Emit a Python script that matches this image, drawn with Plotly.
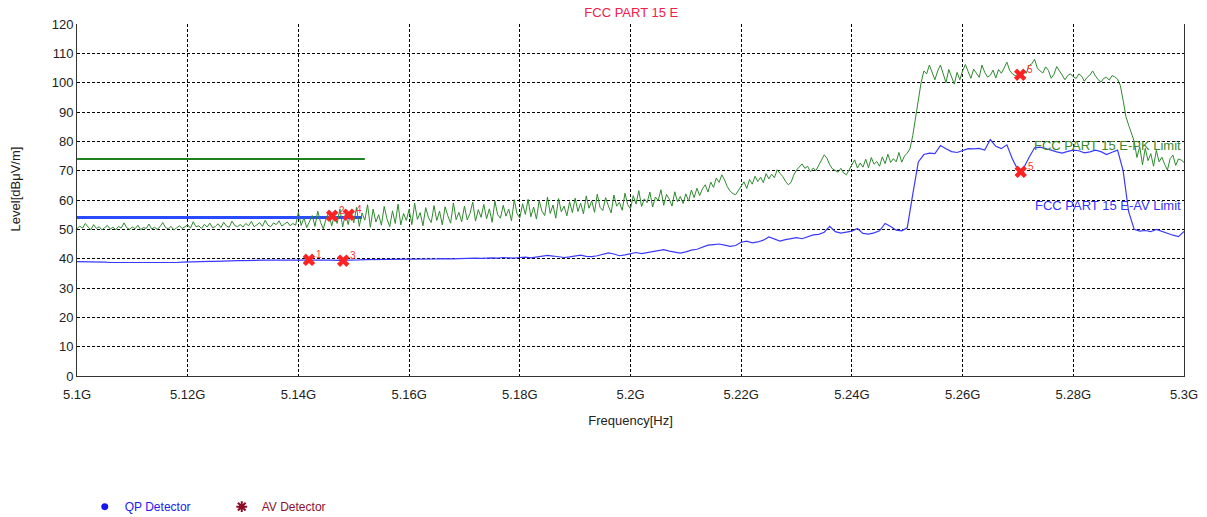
import numpy as np
import plotly.graph_objects as go

# Sweep settings (GHz)
f_start = 5.100
pk_step = 0.0005
av_step = 0.001

# Peak detector trace, 0.5 MHz per point from 5.100 GHz
pk_level = [
    50.2, 51.1, 50.4, 52.0, 50.8, 49.9, 51.6, 50.3, 50.9, 49.8, 50.6, 51.3, 50.1, 50.7, 49.9, 51.0, 50.4, 52.2, 50.5, 50.0,
    50.8, 50.2, 51.4, 49.9, 50.6, 50.3, 51.8, 50.1, 50.7, 50.0, 50.9, 52.3, 50.6, 50.2, 51.0, 49.8, 50.5, 51.2, 50.3, 50.8,
    51.5, 50.4, 52.6, 50.9, 51.2, 50.3, 51.7, 50.8, 52.1, 50.5, 51.0, 51.9, 50.6, 52.4, 51.1, 50.7, 52.8, 51.3, 50.9, 51.6,
    50.8, 52.0, 51.2, 52.7, 50.9, 51.5, 52.3, 51.0, 53.1, 51.4, 50.9, 52.2, 51.6, 52.9, 51.1, 51.8, 52.5, 51.2, 52.0, 51.4,
    55.8, 51.3, 53.9, 50.6, 52.8, 54.7, 51.0, 56.2, 52.4, 50.2, 53.6, 55.9, 51.1, 54.8, 52.0, 57.0, 50.8, 55.3, 51.6, 56.4,
    52.2, 57.5, 51.0, 55.6, 53.1, 58.4, 50.7, 56.9, 52.5, 55.0, 51.4, 57.8, 53.6, 50.9, 56.3, 52.0, 58.6, 51.5, 55.4, 53.0,
    56.8, 51.6, 58.9, 53.4, 55.7, 51.2, 57.4, 54.0, 52.3, 58.1, 53.0, 56.2, 51.5, 57.7, 54.6, 52.1, 59.0, 53.3, 55.8, 52.6,
    57.9, 53.2, 55.4, 59.3, 52.8, 56.7, 54.1, 58.5, 53.6, 57.0, 52.4, 59.6, 55.0, 53.8, 58.2, 54.5, 56.9, 52.9, 60.1, 55.3,
    53.9, 58.7, 55.1, 60.2, 54.3, 57.6, 53.5, 59.8, 56.2, 54.7, 61.0, 55.4, 58.3, 53.8, 60.5, 56.0, 57.9, 54.6, 59.4, 55.7,
    60.6, 56.1, 58.9, 55.3, 61.4, 57.2, 59.7, 55.8, 62.0, 57.5, 56.4, 60.8, 58.0, 55.6, 61.7, 57.9, 59.2, 56.5, 62.3, 58.4,
    57.0, 61.5, 58.6, 63.2, 57.8, 60.4, 59.1, 62.7, 57.6, 61.0, 59.8, 63.5, 58.2, 61.9, 60.3, 57.9, 62.8, 59.4, 61.2, 58.8,
    62.1, 59.6, 63.4, 60.8, 64.0, 61.5, 63.8, 65.2, 62.7, 66.1, 64.3, 67.5, 66.0, 68.6, 66.8, 64.5, 63.0, 62.2, 61.8, 63.4,
    64.8, 66.2, 63.9, 67.0, 65.4, 68.1, 66.3, 67.8, 65.9, 69.0, 67.2, 68.8, 67.6, 70.3, 69.1, 68.0, 66.4, 65.2, 66.0, 68.5,
    70.2, 71.4, 72.3, 70.8, 71.5, 69.6, 70.9, 70.0, 71.8, 73.6, 75.4, 74.2, 72.0, 70.6, 70.1, 69.5, 70.8, 69.2, 68.6, 70.4,
    71.8, 73.7, 70.9, 72.6, 71.2, 73.9, 71.0, 74.5, 72.2, 73.1, 71.5, 74.7, 72.4, 75.6, 72.8, 74.1, 73.0, 76.2, 72.9, 75.0,
    76.0, 77.5, 82.0, 88.0, 95.0, 100.0, 104.0, 103.0, 106.0, 103.5, 101.0, 104.0, 106.0, 103.0, 100.0, 104.5, 102.0, 99.5, 103.5, 101.0,
    104.0, 106.2, 103.8, 101.5, 104.6, 103.0, 101.8, 106.0, 103.5, 101.9, 102.5, 104.3, 101.6, 104.5, 103.2, 105.0, 107.0, 104.2, 103.0, 102.4,
    102.6, 102.9, 104.5, 103.2, 105.8, 106.4, 108.0, 105.0, 104.0, 103.3, 105.4, 104.2, 101.5, 102.8, 105.5, 104.0, 102.2, 101.0, 102.5, 103.0,
    102.0, 101.4, 103.0, 102.2, 100.5, 101.8, 102.6, 104.0, 102.3, 101.0, 100.2, 101.5, 101.8, 100.9, 102.4, 102.0, 101.2, 99.0, 94.0, 88.5,
    85.5, 83.0, 80.0, 74.5, 78.2, 72.0, 77.6, 73.4, 75.8, 71.5, 76.9, 73.0, 74.6, 72.2, 70.2, 74.1, 75.3, 71.8, 74.0, 73.6,
    72.8,
]

# Average detector trace, 1 MHz per point from 5.100 GHz
av_level = [
    39.0, 39.0, 38.9, 38.9, 38.8, 38.8, 38.7, 38.7, 38.6, 38.6,
    38.6, 38.5, 38.5, 38.5, 38.5, 38.6, 38.6, 38.7, 38.7, 38.8,
    38.9, 38.9, 39.0, 39.0, 39.1, 39.1, 39.2, 39.2, 39.3, 39.3,
    39.3, 39.4, 39.4, 39.4, 39.5, 39.5, 39.5, 39.6, 39.6, 39.6,
    39.6, 39.7, 39.7, 39.6, 39.5, 39.6, 39.5, 39.4, 39.4, 39.5,
    39.6, 39.6, 39.7, 39.7, 39.8, 39.8, 39.8, 39.8, 39.9, 39.8,
    39.8, 39.9, 39.8, 39.8, 39.9, 39.9, 40.0, 39.9, 39.9, 40.0,
    40.1, 40.0, 40.2, 40.1, 40.3, 40.3, 40.2, 40.4, 40.3, 40.2,
    40.4, 40.5, 40.3, 40.6, 40.8, 41.1, 40.9, 40.6, 40.4, 40.6,
    40.9, 41.2, 40.8, 40.7, 41.0, 41.5, 42.0, 41.6, 41.0, 41.3,
    41.8, 42.1, 41.7, 42.0, 42.4, 42.8, 43.1, 42.6, 42.2, 41.9,
    42.3, 42.9, 43.2, 43.8, 44.6, 44.8, 45.0, 44.6, 44.2, 44.5,
    45.6, 46.0, 45.4, 45.7, 46.3, 47.4, 46.8, 46.0, 46.5, 46.9,
    47.2, 46.8, 47.5, 48.1, 48.3, 49.0, 51.0, 49.2, 48.7, 49.0,
    49.4, 50.3, 48.6, 48.4, 48.8, 49.5, 52.0, 51.0, 49.7, 49.5,
    50.5, 62.0, 73.0, 75.5, 76.0, 75.8, 78.6, 77.5, 76.5, 76.2,
    76.8, 77.5, 77.4, 77.6, 77.0, 80.6, 78.3, 77.5, 78.8, 74.0,
    70.2, 70.8, 74.5, 77.8, 78.0, 77.6, 77.0, 76.4, 76.0, 76.6,
    77.0, 76.8, 76.1, 76.4, 77.0, 76.5, 75.5, 76.3, 77.0, 70.0,
    56.0, 50.0, 49.4, 49.6, 49.2, 50.0, 49.3, 48.5, 48.0, 47.5,
    49.3,
]

# Limit lines (GHz, dBuV/m)
pk_limit_freq = [5.100, 5.152]
pk_limit_level = [74, 74]
av_limit_freq = [5.100, 5.1515]
av_limit_level = [54, 54]

# Marked readings
mark_freq = [5.1419, 5.1461, 5.1481, 5.1491, 5.2704, 5.2705]
mark_level = [39.6, 54.6, 39.3, 55.0, 102.7, 69.6]
mark_label = ["1", "2", "3", "4", "5", "5"]

x_ticks = [5.10, 5.12, 5.14, 5.16, 5.18, 5.20, 5.22, 5.24, 5.26, 5.28, 5.30]
x_tick_text = ["5.1G", "5.12G", "5.14G", "5.16G", "5.18G", "5.2G",
               "5.22G", "5.24G", "5.26G", "5.28G", "5.3G"]
y_ticks = [0, 10, 20, 30, 40, 50, 60, 70, 80, 90, 100, 110, 120]

pk_freq = f_start + np.arange(len(pk_level)) * pk_step
av_freq = f_start + np.arange(len(av_level)) * av_step

FONT = "Liberation Sans, Arial, sans-serif"
GREEN = "#2f8a2f"
BLUE = "#3a3aff"

fig = go.Figure()

fig.add_trace(go.Scatter(x=pk_limit_freq, y=pk_limit_level, mode="lines",
                         line=dict(color="#1f801f", width=2), showlegend=False, hoverinfo="skip"))
fig.add_trace(go.Scatter(x=av_limit_freq, y=av_limit_level, mode="lines",
                         line=dict(color="#2a4cff", width=3), showlegend=False, hoverinfo="skip"))
fig.add_trace(go.Scatter(x=pk_freq, y=pk_level, mode="lines",
                         line=dict(color=GREEN, width=1), showlegend=False))
fig.add_trace(go.Scatter(x=av_freq, y=av_level, mode="lines",
                         line=dict(color=BLUE, width=1.2), showlegend=False))
fig.add_trace(go.Scatter(x=mark_freq, y=mark_level, mode="markers",
                         marker=dict(symbol="x", size=11, color="#ff2222", line=dict(width=0)),
                         showlegend=False))

# Legend-only entries
fig.add_trace(go.Scatter(x=[None], y=[None], mode="markers",
                         marker=dict(symbol="circle", size=7, color="#1515ee"),
                         name="<span style='color:#2020f0'>QP Detector</span>"))
fig.add_trace(go.Scatter(x=[None], y=[None], mode="markers",
                         marker=dict(symbol="asterisk-open", size=9, color="#8b0a24",
                                     line=dict(color="#8b0a24", width=2)),
                         name="<span style='color:#8b1030'>AV Detector</span>"))

# Marker number labels, just up and right of each mark
mark_notes = [
    dict(text=lab, x=fx, y=lv, xref="x", yref="y", xanchor="left", yanchor="middle",
         xshift=5, yshift=5, showarrow=False,
         font=dict(family=FONT, size=10, color="#ff3030"))
    for fx, lv, lab in zip(mark_freq, mark_level, mark_label)
]

fig.update_layout(
    width=1207, height=517,
    margin=dict(l=77, r=23, t=24, b=141, autoexpand=False),
    paper_bgcolor="white", plot_bgcolor="white",
    font=dict(family=FONT, size=13, color="#222"),
    title=dict(text="FCC PART 15 E", x=0.523, xanchor="center", y=0.975, yanchor="middle",
               font=dict(family=FONT, size=13, color="#f0204a")),
    legend=dict(orientation="h", x=0.007, xanchor="left", yref="container", y=0.02, yanchor="middle",
                font=dict(family=FONT, size=12),
                entrywidth=92, entrywidthmode="pixels", bgcolor="rgba(0,0,0,0)"),
    xaxis=dict(range=[5.1, 5.3], tickvals=x_ticks, ticktext=x_tick_text,
               showgrid=True, gridcolor="#000", griddash="3px,2px", gridwidth=1,
               showline=True, linecolor="#333", linewidth=1, zeroline=False,
               ticks="outside", ticklen=6, tickcolor="rgba(0,0,0,0)",
               tickfont=dict(size=13, color="#222"),
               title=dict(text="Frequency[Hz]", font=dict(size=13, color="#222"), standoff=15)),
    yaxis=dict(range=[0, 120], tickvals=y_ticks,
               showgrid=True, gridcolor="#000", griddash="3px,2px", gridwidth=1,
               showline=True, mirror=True, linecolor="#333", linewidth=1, zeroline=False,
               ticks="", tickfont=dict(size=13, color="#222")),
    annotations=[
        dict(text="Level[dBμV/m]", textangle=-90, xref="paper", yref="paper",
             x=-0.056, y=0.53, xanchor="center", yanchor="middle", showarrow=False,
             font=dict(family=FONT, size=13, color="#222")),
        dict(text="FCC PART 15 E-PK Limit", xref="paper", yref="y", x=0.999, y=78.5,
             xanchor="right", yanchor="middle", showarrow=False,
             font=dict(family=FONT, size=13, color="#3a8a2a")),
        dict(text="FCC PART 15 E-AV Limit", xref="paper", yref="y", x=0.999, y=58,
             xanchor="right", yanchor="middle", showarrow=False,
             font=dict(family=FONT, size=13, color="#3535ff")),
    ] + mark_notes,
)

fig.write_html("out.html")
